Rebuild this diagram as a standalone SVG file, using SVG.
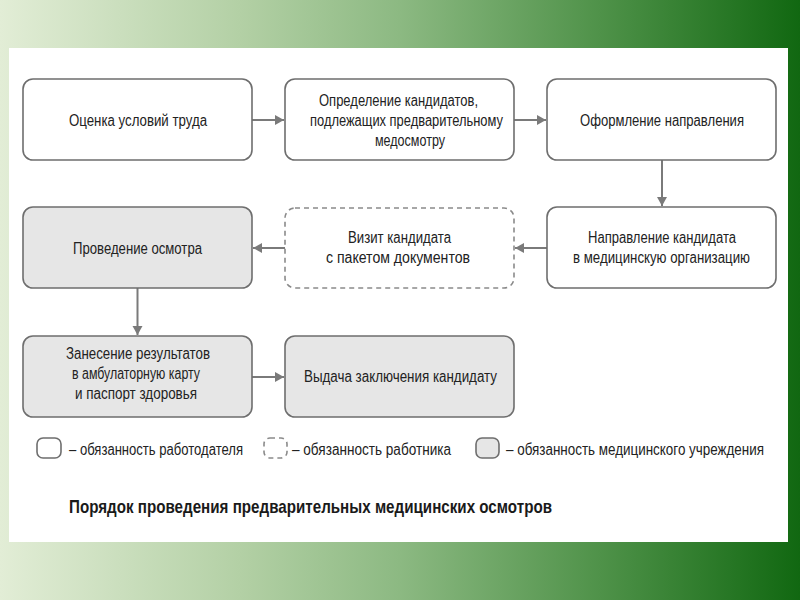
<svg xmlns="http://www.w3.org/2000/svg" width="800" height="600" viewBox="0 0 800 600">
<defs>
<linearGradient id="bg" x1="0" y1="0" x2="1" y2="0">
<stop offset="0" stop-color="#e2edd6"/>
<stop offset="0.3" stop-color="#b3d0a5"/>
<stop offset="0.5" stop-color="#8cb982"/>
<stop offset="0.75" stop-color="#4f9249"/>
<stop offset="1" stop-color="#116811"/>
</linearGradient>
<marker id="ah" markerUnits="userSpaceOnUse" markerWidth="10" markerHeight="12" refX="9" refY="5" orient="auto">
<path d="M0,0 L9,5 L0,10 Z" fill="#7a7a7a"/>
</marker>
<style>
.box{fill:#ffffff;stroke:#6e6e6e;stroke-width:1.6}
.med{fill:#e6e6e6;stroke:#6e6e6e;stroke-width:1.6}
.dash{fill:#ffffff;stroke:#8a8a8a;stroke-width:1.6;stroke-dasharray:5 4}
.t{font-family:"Liberation Sans Narrow","Liberation Sans",Arial,sans-serif;font-size:16px;fill:#222222}
.title{font-family:"Liberation Sans Narrow","Liberation Sans",Arial,sans-serif;font-size:19px;font-weight:bold;fill:#1a1a1a}
.c{fill:none;stroke:#7a7a7a;stroke-width:2;marker-end:url(#ah)}
</style>
</defs>
<rect x="0" y="0" width="800" height="600" fill="url(#bg)"/>
<rect x="9" y="48" width="779" height="494" fill="#ffffff"/>

<g id="connectors">
<line class="c" x1="252" y1="120" x2="284" y2="120"/>
<line class="c" x1="514" y1="120" x2="546" y2="120"/>
<line class="c" x1="662" y1="160" x2="662" y2="206"/>
<line class="c" x1="547" y1="248" x2="515" y2="248"/>
<line class="c" x1="285" y1="248" x2="253" y2="248"/>
<line class="c" x1="137.5" y1="288" x2="137.5" y2="335"/>
<line class="c" x1="252" y1="377" x2="284" y2="377"/>
</g>

<g id="n1">
<rect class="box" x="23" y="79" width="229" height="81" rx="10"/>
<text class="t" x="69" y="126" textLength="138" lengthAdjust="spacingAndGlyphs">Оценка условий труда</text>
</g>
<g id="n2">
<rect class="box" x="285" y="79" width="229" height="81" rx="10"/>
<text class="t" x="319" y="106" textLength="159" lengthAdjust="spacingAndGlyphs">Определение кандидатов,</text>
<text class="t" x="310" y="126" textLength="193" lengthAdjust="spacingAndGlyphs">подлежащих предварительному</text>
<text class="t" x="375" y="146" textLength="70" lengthAdjust="spacingAndGlyphs">медосмотру</text>
</g>
<g id="n3">
<rect class="box" x="547" y="79" width="229" height="81" rx="10"/>
<text class="t" x="580" y="126" textLength="164" lengthAdjust="spacingAndGlyphs">Оформление направления</text>
</g>
<g id="n4">
<rect class="box" x="547" y="207" width="229" height="81" rx="10"/>
<text class="t" x="588" y="243" textLength="148" lengthAdjust="spacingAndGlyphs">Направление кандидата</text>
<text class="t" x="573" y="263" textLength="177" lengthAdjust="spacingAndGlyphs">в медицинскую организацию</text>
</g>
<g id="n5">
<rect class="dash" x="285" y="208" width="229" height="80" rx="10"/>
<text class="t" x="348" y="243" textLength="103" lengthAdjust="spacingAndGlyphs">Визит кандидата</text>
<text class="t" x="326" y="263" textLength="144" lengthAdjust="spacingAndGlyphs">с пакетом документов</text>
</g>
<g id="n6">
<rect class="med" x="23" y="207" width="229" height="81" rx="10"/>
<text class="t" x="73" y="254" textLength="129" lengthAdjust="spacingAndGlyphs">Проведение осмотра</text>
</g>
<g id="n7">
<rect class="med" x="23" y="336" width="229" height="81" rx="10"/>
<text class="t" x="66" y="359" textLength="144" lengthAdjust="spacingAndGlyphs">Занесение результатов</text>
<text class="t" x="72" y="379" textLength="128" lengthAdjust="spacingAndGlyphs">в амбулаторную карту</text>
<text class="t" x="75" y="399" textLength="122" lengthAdjust="spacingAndGlyphs">и паспорт здоровья</text>
</g>
<g id="n8">
<rect class="med" x="285" y="336" width="229" height="81" rx="10"/>
<text class="t" x="304" y="382" textLength="193" lengthAdjust="spacingAndGlyphs">Выдача заключения кандидату</text>
</g>

<g id="legend">
<rect class="box" x="37" y="438" width="24" height="20" rx="6"/>
<text class="t" x="69" y="455" textLength="174" lengthAdjust="spacingAndGlyphs">– обязанность работодателя</text>
<rect class="dash" x="264" y="438" width="23" height="20" rx="6"/>
<text class="t" x="292" y="455" textLength="159" lengthAdjust="spacingAndGlyphs">– обязанность работника</text>
<rect class="med" x="476" y="438" width="23" height="20" rx="6"/>
<text class="t" x="506" y="455" textLength="258" lengthAdjust="spacingAndGlyphs">– обязанность медицинского учреждения</text>
</g>
<g id="caption">
<text class="title" x="69" y="513" textLength="483" lengthAdjust="spacingAndGlyphs">Порядок проведения предварительных медицинских осмотров</text>
</g>
</svg>
